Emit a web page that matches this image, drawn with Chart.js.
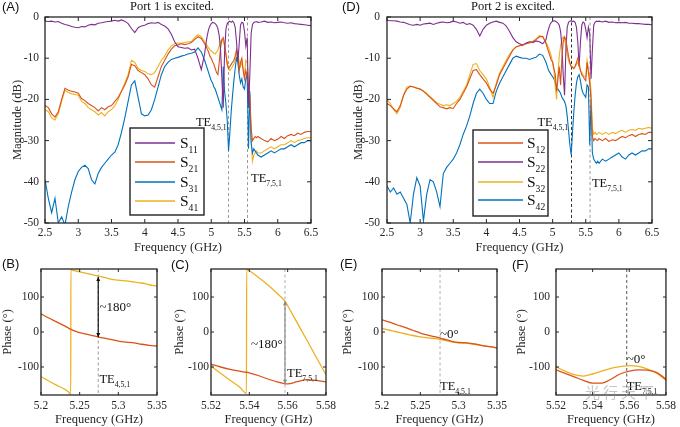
<!DOCTYPE html>
<html><head><meta charset="utf-8">
<script src="https://cdn.jsdelivr.net/npm/chart.js@4.4.1/dist/chart.umd.min.js"></script>
<style>
body{margin:0;background:#fff;width:680px;height:427px;overflow:hidden;position:relative}
canvas{position:absolute;left:0;top:0}
.pl{position:absolute;font-family:"Liberation Sans",Arial,sans-serif;font-size:13px;line-height:14px;color:#111}
.tt{position:absolute;font-family:"Liberation Serif","Times New Roman",serif;font-size:12.5px;line-height:14px;color:#111;text-align:center;width:200px}
.wm{position:absolute;font-family:"Noto Sans CJK SC",sans-serif;font-size:15px;color:rgba(150,150,150,0.55);letter-spacing:3px}
</style></head><body>
<canvas id="cA" width="680" height="427"></canvas>
<canvas id="cD" width="680" height="427"></canvas>
<canvas id="cB" width="680" height="427"></canvas>
<canvas id="cC" width="680" height="427"></canvas>
<canvas id="cE" width="680" height="427"></canvas>
<canvas id="cF" width="680" height="427"></canvas>
<div class="pl" style="left:2px;top:0px">(A)</div>
<div class="pl" style="left:342px;top:0px">(D)</div>
<div class="pl" style="left:2px;top:257px">(B)</div>
<div class="pl" style="left:171px;top:258px">(C)</div>
<div class="pl" style="left:340px;top:257px">(E)</div>
<div class="pl" style="left:512px;top:258px">(F)</div>
<div class="tt" style="left:72px;top:-1px">Port 1 is excited.</div>
<div class="tt" style="left:413px;top:-1px">Port 2 is excited.</div>
<div class="wm" style="left:585px;top:381px">光行天下</div>
<script>
// ---------- DATA ----------
const freqTop = [
 2.50,2.55,2.60,2.65,2.70,2.75,2.80,2.85,2.90,2.95,
 3.00,3.05,3.10,3.15,3.20,3.25,3.30,3.35,3.40,3.45,
 3.50,3.55,3.60,3.65,3.70,3.75,3.80,3.85,3.90,3.95,
 4.00,4.05,4.10,4.15,4.20,4.25,4.30,4.35,4.40,4.45,
 4.50,4.55,4.60,4.65,4.70,4.75,4.80,4.85,4.90,
 4.92,4.94,4.96,4.98,5.00,5.02,5.04,5.06,5.08,5.10,
 5.12,5.14,5.16,5.18,5.20,5.22,5.24,5.26,5.28,5.30,
 5.32,5.34,5.36,5.38,5.40,5.42,5.44,5.46,5.48,5.50,
 5.52,5.54,5.56,5.58,5.60,5.62,5.64,5.66,5.68,5.70,
 5.75,5.80,5.85,5.90,5.95,6.00,6.05,6.10,6.15,6.20,6.25,6.30,6.35,6.40,6.45,6.50];

// Panel A (port 1 excited), dB
const s11 = [
 -1.0,-1.1,-1.0,-1.2,-1.1,-1.5,-1.8,-2.0,-2.3,-2.5,
 -2.6,-2.3,-2.4,-2.0,-1.8,-1.9,-1.5,-1.4,-1.2,-1.1,
 -1.0,-0.8,-1.0,-0.7,-1.0,-1.6,-2.8,-3.8,-2.6,-2.2,
 -2.0,-1.6,-1.4,-1.5,-1.3,-1.8,-2.2,-2.9,-4.2,-6.0,
 -7.2,-7.4,-7.6,-7.5,-8.0,-7.8,-10.0,-12.8,-9.0,
 -6.5,-4.5,-3.0,-2.2,-1.6,-1.3,-1.4,-1.6,-2.0,-2.8,
 -4.5,-8.0,-15.0,-22.0,-9.0,-3.0,-1.6,-1.2,-1.0,-1.3,
 -1.0,-1.4,-2.5,-6.0,-11.0,-6.5,-2.0,-1.3,-1.5,-3.5,
 -7.0,-5.0,-22.0,-14.0,-4.0,-1.8,-1.3,-1.2,-1.1,-1.3,
 -1.2,-1.0,-1.3,-1.2,-1.4,-1.3,-1.2,-1.4,-1.5,-1.4,-1.6,-1.7,-1.8,-1.9,-2.0,-2.1];
const s21 = [
 -21.5,-22.0,-23.5,-24.3,-23.0,-20.0,-17.3,-17.8,-18.0,-18.2,
 -18.5,-19.8,-20.3,-21.0,-21.5,-22.0,-22.8,-22.0,-22.5,-21.8,
 -21.5,-20.5,-19.5,-18.0,-16.5,-14.5,-11.5,-11.8,-13.0,-13.5,
 -14.0,-15.0,-16.5,-17.0,-14.5,-12.0,-10.5,-9.0,-7.8,-7.0,
 -6.8,-6.5,-6.7,-6.5,-6.2,-5.5,-4.8,-5.2,-6.5,
 -7.0,-7.8,-8.5,-9.5,-10.0,-10.8,-11.5,-12.5,-13.5,-14.0,
 -11.0,-7.5,-5.5,-5.0,-6.5,-9.0,-11.5,-12.5,-12.0,-11.5,
 -11.0,-10.5,-9.5,-8.0,-9.5,-13.0,-11.0,-10.0,-13.0,-15.0,
 -13.0,-14.5,-17.0,-19.0,-27.0,-30.0,-29.5,-29.0,-29.3,-29.0,
 -29.5,-30.0,-30.3,-29.5,-30.0,-29.7,-29.0,-29.5,-28.8,-28.5,-28.8,-28.2,-28.5,-28.0,-27.8,-27.8];
const s31 = [
 -39.5,-44.0,-47.5,-44.0,-50.0,-48.5,-50.5,-46.0,-42.5,-39.5,
 -37.5,-36.5,-36.0,-36.8,-39.5,-40.5,-38.0,-36.5,-35.5,-34.5,
 -33.5,-32.8,-31.0,-28.0,-24.5,-20.5,-16.5,-15.5,-19.5,-23.5,
 -24.0,-23.8,-22.5,-20.0,-17.0,-14.0,-12.0,-11.0,-10.3,-10.0,
 -9.8,-9.5,-9.3,-9.0,-8.8,-8.5,-7.5,-8.5,-10.5,
 -11.5,-12.5,-13.5,-14.5,-15.5,-16.0,-17.0,-17.5,-18.5,-19.5,
 -20.5,-21.5,-22.5,-12.0,-18.0,-21.0,-25.0,-32.5,-28.0,-23.0,
 -19.0,-15.5,-12.5,-10.0,-11.0,-14.0,-16.0,-15.0,-17.0,-17.5,
 -15.0,-14.0,-32.0,-18.0,-30.5,-33.0,-32.0,-32.5,-33.0,-33.5,
 -34.0,-33.5,-33.0,-32.5,-33.0,-32.5,-32.0,-32.0,-31.5,-31.0,-31.5,-31.0,-30.5,-30.5,-30.0,-30.0];
const s41 = [
 -22.5,-23.0,-24.5,-25.0,-23.5,-20.5,-17.8,-18.3,-18.6,-18.8,
 -19.0,-20.5,-21.0,-22.0,-22.5,-23.0,-23.8,-23.2,-24.0,-23.0,
 -22.5,-21.5,-20.0,-18.0,-16.0,-14.0,-10.5,-11.0,-12.5,-13.0,
 -13.2,-13.8,-14.0,-13.5,-12.0,-10.5,-9.5,-8.0,-7.0,-6.5,
 -6.3,-6.4,-6.2,-6.0,-6.0,-5.0,-4.3,-4.8,-6.0,
 -6.5,-7.0,-7.5,-8.0,-8.2,-8.5,-8.8,-9.0,-8.5,-8.0,
 -7.0,-6.0,-5.5,-6.0,-7.0,-9.0,-11.0,-12.5,-13.0,-12.5,
 -12.0,-11.5,-10.5,-9.0,-8.5,-11.0,-12.0,-11.0,-12.5,-14.0,
 -10.5,-11.0,-15.0,-21.0,-30.0,-35.0,-33.5,-33.0,-32.5,-33.0,
 -33.0,-32.5,-32.0,-31.5,-32.0,-31.5,-31.0,-31.0,-30.5,-30.0,-30.5,-30.0,-29.8,-29.5,-29.3,-29.3];

// Panel D (port 2 excited), dB
const s12 = [
 -21.0,-21.5,-22.3,-23.0,-21.5,-19.0,-17.5,-16.8,-17.0,-17.3,
 -17.5,-18.0,-18.8,-19.5,-20.3,-21.0,-21.8,-22.0,-22.3,-22.0,
 -22.2,-21.0,-20.0,-18.5,-17.0,-15.0,-13.0,-12.8,-14.0,-15.0,
 -16.0,-17.5,-18.5,-16.5,-14.0,-12.5,-11.0,-9.5,-8.0,-7.2,
 -7.0,-6.8,-6.5,-6.3,-6.0,-5.5,-4.8,-4.7,-6.5,
 -7.5,-8.5,-9.5,-10.5,-11.0,-12.5,-14.0,-18.0,-15.0,-12.0,
 -16.5,-10.0,-6.0,-4.8,-5.5,-7.5,-9.5,-11.0,-12.0,-12.3,
 -12.5,-12.0,-11.0,-10.0,-11.0,-13.0,-14.0,-14.5,-15.0,-15.5,
 -11.0,-13.5,-16.0,-20.0,-29.0,-30.0,-29.5,-29.8,-30.0,-29.5,
 -30.0,-29.5,-30.2,-29.8,-30.0,-29.5,-29.0,-29.3,-28.8,-28.5,-29.0,-28.5,-28.3,-28.5,-28.0,-28.0];
const s22 = [
 -0.8,-0.9,-0.9,-1.0,-1.2,-1.3,-1.6,-1.9,-2.0,-1.8,
 -2.0,-1.7,-1.6,-1.5,-1.8,-1.5,-1.3,-1.2,-1.4,-1.3,
 -1.0,-1.2,-1.5,-1.3,-1.8,-1.6,-2.0,-3.0,-4.6,-3.0,
 -2.0,-1.5,-1.2,-1.0,-1.3,-1.5,-2.2,-3.5,-5.0,-6.0,
 -6.5,-6.8,-6.3,-6.0,-6.2,-5.8,-6.0,-6.5,-5.5,
 -4.0,-2.8,-1.8,-1.3,-1.0,-0.9,-1.0,-1.2,-1.5,-2.0,
 -3.5,-7.0,-14.0,-19.0,-8.0,-2.5,-1.3,-1.0,-0.9,-1.1,
 -1.0,-1.3,-2.5,-6.0,-12.0,-6.0,-2.0,-1.2,-1.5,-3.0,
 -5.0,-2.5,-4.0,-15.0,-8.0,-2.0,-1.3,-1.0,-1.1,-1.0,
 -1.2,-1.0,-1.3,-1.2,-1.4,-1.3,-1.4,-1.3,-1.5,-1.5,-1.6,-1.6,-1.7,-1.8,-1.8,-1.9];
const s32 = [
 -20.0,-21.0,-22.5,-23.5,-22.0,-19.0,-17.0,-16.8,-17.0,-17.2,
 -17.5,-18.0,-18.5,-19.3,-20.0,-20.8,-21.2,-21.5,-21.3,-21.5,
 -21.0,-20.5,-19.5,-18.0,-16.5,-14.0,-11.5,-11.3,-13.0,-14.0,
 -15.0,-17.0,-19.5,-16.0,-13.5,-12.0,-10.5,-9.0,-8.0,-7.3,
 -7.0,-6.8,-6.5,-6.0,-6.0,-5.3,-4.5,-4.8,-6.0,
 -6.8,-7.5,-8.5,-9.5,-11.0,-13.0,-17.0,-20.0,-14.0,-9.5,
 -7.0,-5.5,-4.8,-5.5,-7.0,-9.0,-10.5,-11.5,-12.0,-12.0,
 -12.5,-12.0,-11.5,-11.0,-12.0,-13.0,-13.5,-14.0,-14.5,-14.5,
 -10.5,-12.5,-14.5,-18.0,-27.0,-28.5,-28.0,-28.5,-28.3,-28.0,
 -28.5,-28.0,-28.5,-28.0,-28.3,-27.8,-27.5,-28.0,-27.5,-27.3,-27.5,-27.0,-27.2,-27.0,-26.8,-27.0];
const s42 = [
 -41.0,-42.5,-41.5,-43.0,-42.5,-44.0,-45.5,-50.0,-43.0,-39.0,
 -41.0,-49.5,-43.0,-39.5,-40.0,-42.5,-46.0,-38.0,-36.5,-35.5,
 -34.5,-33.0,-31.0,-28.5,-26.5,-24.0,-21.0,-18.5,-17.5,-18.5,
 -20.0,-21.0,-21.0,-18.0,-16.0,-14.5,-13.0,-11.5,-10.0,-9.5,
 -9.8,-10.0,-10.0,-10.3,-10.0,-9.8,-9.0,-9.3,-11.0,
 -12.0,-13.0,-13.5,-14.0,-14.5,-15.0,-16.0,-17.0,-17.5,-18.0,
 -18.5,-19.5,-20.0,-20.5,-21.5,-24.0,-27.5,-31.0,-33.5,-28.0,
 -23.0,-19.0,-16.0,-14.5,-14.0,-15.5,-17.5,-18.5,-19.0,-19.5,
 -16.5,-17.0,-31.0,-20.0,-33.0,-34.5,-35.0,-35.5,-35.0,-35.5,
 -34.5,-35.0,-34.5,-34.0,-33.5,-33.0,-34.0,-34.5,-33.5,-33.0,-33.5,-33.0,-32.5,-32.5,-32.0,-32.0];

// Phase panels (degrees)
const freqB = [5.200,5.210,5.220,5.230,5.235,5.2385,5.2386,5.240,5.250,5.260,5.270,5.280,5.290,5.300,5.310,5.320,5.330,5.340,5.350];
const phB21 = [52,40,29,18,12,8,8,6,-2,-7,-12,-17,-21,-26,-29,-31,-35,-38,-40];
const phB41 = [-127,-140,-152,-163,-170,-178,178,177,172,167,162,157,151,148,146,143,140,135,131];
const freqC = [5.5200,5.5250,5.5300,5.5350,5.5385,5.5386,5.5400,5.5450,5.5500,5.5550,5.5586,5.5600,5.5650,5.5700,5.5750,5.5800];
const phC21 = [-92,-100,-107,-112,-115,-115,-117,-125,-135,-143,-148,-148,-142,-136,-138,-143];
const phC41 = [-97,-118,-138,-158,-175,178,175,155,133,108,88,75,26,-23,-73,-122];
const freqE = [5.20,5.21,5.22,5.23,5.24,5.25,5.26,5.27,5.28,5.29,5.30,5.31,5.32,5.33,5.34,5.35];
const phE12 = [35,28,20,13,5,-3,-9,-14,-20,-26,-30,-31,-34,-38,-42,-45];
const phE32 = [10,5,0,-5,-10,-14,-17,-19,-23,-28,-31,-32,-35,-39,-42,-46];
const freqF = [5.520,5.525,5.530,5.535,5.540,5.545,5.550,5.555,5.560,5.565,5.570,5.575,5.580];
const phF12 = [-108,-118,-128,-138,-146,-146,-135,-120,-112,-108,-109,-116,-135];
const phF32 = [-99,-112,-122,-126,-120,-112,-104,-99,-96,-98,-106,-118,-138];

// Ticks
const topXTicks = [2.5,3,3.5,4,4.5,5,5.5,6,6.5];
const topYTicks = [-50,-40,-30,-20,-10,0];
const phaseYTicks = [-100,0,100];
const xTicksBE = [5.2,5.25,5.3,5.35];
const xTicksCF = [5.52,5.54,5.56,5.58];
const legendA = ['11','21','31','41'];
const legendD = ['12','22','32','42'];

// ---------- DRAWING ----------
const SERIF = '"Liberation Serif","Times New Roman",serif';
const AX = '#262626';
const PURPLE='#7E2F8E', ORANGE='#D95319', BLUE='#0072BD', YELLOW='#EDB120';

function pts(xs, ys){ return xs.map((x,i)=>({x:x, y:ys[i]})); }

function subText(ctx, x, y, main, sub, size, align, color){
  ctx.save(); ctx.fillStyle = color || '#111'; ctx.textBaseline='alphabetic'; ctx.textAlign='left';
  ctx.font = size+'px '+SERIF; const w1 = ctx.measureText(main).width;
  const ss = size*0.62;
  ctx.font = ss+'px '+SERIF; const w2 = ctx.measureText(sub).width;
  const x0 = align==='right' ? x-w1-w2 : x;
  ctx.font = size+'px '+SERIF; ctx.fillText(main, x0, y);
  ctx.font = ss+'px '+SERIF; ctx.fillText(sub, x0+w1, y+size*0.3);
  ctx.restore();
}
function plainText(ctx, x, y, t, size, align){
  ctx.save(); ctx.fillStyle='#111'; ctx.font=size+'px '+SERIF; ctx.textAlign=align||'left'; ctx.textBaseline='alphabetic';
  ctx.fillText(t, x, y); ctx.restore();
}
function vdash(c, xv, color){
  const ctx=c.ctx, a=c.chartArea, px=c.scales.x.getPixelForValue(xv);
  ctx.save(); ctx.strokeStyle=color; ctx.lineWidth=1; ctx.setLineDash([3,2.5]);
  ctx.beginPath(); ctx.moveTo(px,a.top); ctx.lineTo(px,a.bottom); ctx.stroke(); ctx.restore();
}
function arrow(c, xv, y1, y2, color){
  const ctx=c.ctx, px=c.scales.x.getPixelForValue(xv), p1=c.scales.y.getPixelForValue(y1), p2=c.scales.y.getPixelForValue(y2);
  ctx.save(); ctx.strokeStyle=color; ctx.fillStyle=color; ctx.lineWidth=1.2;
  ctx.beginPath(); ctx.moveTo(px,p1); ctx.lineTo(px,p2); ctx.stroke();
  const top=Math.min(p1,p2), bot=Math.max(p1,p2);
  ctx.beginPath(); ctx.moveTo(px,top); ctx.lineTo(px-2,top+4); ctx.lineTo(px+2,top+4); ctx.closePath(); ctx.fill();
  ctx.beginPath(); ctx.moveTo(px,bot); ctx.lineTo(px-2,bot-4); ctx.lineTo(px+2,bot-4); ctx.closePath(); ctx.fill();
  ctx.restore();
}
function dx(c,v){return c.scales.x.getPixelForValue(v);}
function dy(c,v){return c.scales.y.getPixelForValue(v);}

function legendBox(ctx, box, items){
  ctx.save();
  ctx.fillStyle='#fff'; ctx.fillRect(box.l, box.t, box.r-box.l, box.b-box.t);
  ctx.strokeStyle='#222'; ctx.lineWidth=1.4; ctx.strokeRect(box.l, box.t, box.r-box.l, box.b-box.t);
  items.forEach(it=>{
    ctx.strokeStyle=it.c; ctx.lineWidth=1.6;
    ctx.beginPath(); ctx.moveTo(box.x1, it.y); ctx.lineTo(box.x2, it.y); ctx.stroke();
    subText(ctx, box.tx, it.y+5, 'S', it.sub, 15.5, 'left', '#111');
  });
  ctx.restore();
}

function frame(c, o){
  const ctx=c.ctx, a=c.chartArea, xs=c.scales.x, ys=c.scales.y, L=o.tick;
  ctx.save(); ctx.strokeStyle=AX; ctx.lineWidth=1.3;
  ctx.strokeRect(a.left, a.top, a.right-a.left, a.bottom-a.top);
  ctx.lineWidth=1; ctx.beginPath();
  o.xt.forEach(v=>{const p=xs.getPixelForValue(v); ctx.moveTo(p,a.bottom); ctx.lineTo(p,a.bottom-L); ctx.moveTo(p,a.top); ctx.lineTo(p,a.top+L);});
  o.yt.forEach(v=>{const p=ys.getPixelForValue(v); ctx.moveTo(a.left,p); ctx.lineTo(a.left+L,p); ctx.moveTo(a.right,p); ctx.lineTo(a.right-L,p);});
  ctx.stroke(); ctx.restore();
}

function makePanel(id, o){
  const W=o.yW, H=o.xH;
  return new Chart(document.getElementById(id), {
    type:'line',
    data:{datasets:o.series.map(s=>({data:pts(o.x, s.y), borderColor:s.c, backgroundColor:s.c, borderWidth:o.lw, pointRadius:0, fill:false,
      tension:0, cubicInterpolationMode:o.smooth?'monotone':'default'}))},
    options:{
      responsive:false, animation:false, events:[],
      layout:{padding:{left:o.l-W, top:o.t, right:680-o.r, bottom:427-o.b-H}},
      plugins:{legend:{display:false}, tooltip:{enabled:false}, title:{display:false}},
      scales:{
        x:{type:'linear', min:o.xmin, max:o.xmax,
          afterBuildTicks:s=>{s.ticks=o.xt.map(v=>({value:v}));},
          afterFit:s=>{s.height=H;},
          ticks:{font:{family:SERIF,size:11.5}, color:AX, padding:o.xtp, maxRotation:0, minRotation:0, autoSkip:false, callback:v=>String(v)},
          grid:{display:false, drawTicks:false}, border:{display:false},
          title:{display:true, text:'Frequency (GHz)', font:{family:SERIF,size:12.5}, color:AX, padding:{top:0,bottom:0}}},
        y:{type:'linear', min:o.ymin, max:o.ymax,
          afterBuildTicks:s=>{s.ticks=o.yt.map(v=>({value:v}));},
          afterFit:s=>{s.width=W;},
          ticks:{font:{family:SERIF,size:11.5}, color:AX, padding:o.ytp, autoSkip:false, callback:v=>String(v)},
          grid:{display:false, drawTicks:false}, border:{display:false},
          title:{display:true, text:o.ytitle, font:{family:SERIF,size:12.5}, color:AX, padding:{top:o.ytitlePad,bottom:0}}}
      }
    },
    plugins:[{id:'deco'+id,
      beforeDatasetsDraw(c){ if(o.under) o.under(c); },
      afterDraw(c){ frame(c,o); if(o.over) o.over(c); }}]
  });
}

// Panel A
makePanel('cA', {l:45, t:17, r:311, b:223, yW:45, xH:32, xtp:3, ytp:6, ytitlePad:10.5, tick:4, lw:1.1,
  xmin:2.5, xmax:6.5, ymin:-50, ymax:0, xt:topXTicks, yt:topYTicks, x:freqTop, ytitle:'Magnitude (dB)',
  series:[{y:s11,c:PURPLE},{y:s21,c:ORANGE},{y:s31,c:BLUE},{y:s41,c:YELLOW}],
  under:c=>{ vdash(c,5.26,'#9a9a9a'); vdash(c,5.545,'#9a9a9a'); },
  over:c=>{
    subText(c.ctx, dx(c,4.77), dy(c,-26.5), 'TE', '4,5,1', 12.5);
    subText(c.ctx, dx(c,5.598), dy(c,-40), 'TE', '7,5,1', 12.5);
    legendBox(c.ctx, {l:130,t:128,r:204,b:215,x1:135,x2:175,tx:180},
      [{c:PURPLE,sub:legendA[0],y:143},{c:ORANGE,sub:legendA[1],y:162},{c:BLUE,sub:legendA[2],y:182},{c:YELLOW,sub:legendA[3],y:201}]);
  }});

// Panel D
makePanel('cD', {l:387, t:17, r:652, b:223, yW:45, xH:32, xtp:3, ytp:7, ytitlePad:9, tick:4, lw:1.1,
  xmin:2.5, xmax:6.5, ymin:-50, ymax:0, xt:topXTicks, yt:topYTicks, x:freqTop, ytitle:'Magnitude (dB)',
  series:[{y:s12,c:ORANGE},{y:s22,c:PURPLE},{y:s32,c:YELLOW},{y:s42,c:BLUE}],
  under:c=>{ vdash(c,5.285,'#333'); vdash(c,5.565,'#9a9a9a'); },
  over:c=>{
    subText(c.ctx, dx(c,4.77), dy(c,-26.5), 'TE', '4,5,1', 12.5);
    subText(c.ctx, dx(c,5.594), dy(c,-41.3), 'TE', '7,5,1', 12.5);
    legendBox(c.ctx, {l:473,t:130,r:548,b:216,x1:478,x2:523,tx:527},
      [{c:ORANGE,sub:legendD[0],y:143},{c:PURPLE,sub:legendD[1],y:162},{c:YELLOW,sub:legendD[2],y:182},{c:BLUE,sub:legendD[3],y:200}]);
  }});

// Panel B
makePanel('cB', {l:41, t:269, r:157, b:395, yW:41, xH:32, xtp:4, ytp:2, ytitlePad:0, tick:3, lw:1.3, smooth:true,
  xmin:5.2, xmax:5.35, ymin:-180, ymax:180, xt:xTicksBE, yt:phaseYTicks, x:freqB, ytitle:'Phase (°)',
  series:[{y:phB21,c:ORANGE},{y:phB41,c:YELLOW}],
  under:c=>{ vdash(c,5.274,'#9a9a9a'); },
  over:c=>{
    arrow(c,5.274,-14,157,'#111');
    plainText(c.ctx, dx(c,5.2755), dy(c,60), '~180°', 13, 'left');
    subText(c.ctx, dx(c,5.2755), dy(c,-146), 'TE', '4,5,1', 12.5);
  }});

// Panel C
makePanel('cC', {l:211, t:269, r:326, b:395, yW:41, xH:32, xtp:4, ytp:2, ytitlePad:2.5, tick:3, lw:1.3, smooth:true,
  xmin:5.52, xmax:5.58, ymin:-180, ymax:180, xt:xTicksCF, yt:phaseYTicks, x:freqC, ytitle:'Phase (°)',
  series:[{y:phC21,c:ORANGE},{y:phC41,c:YELLOW}],
  under:c=>{ vdash(c,5.5586,'#b0b0b0'); },
  over:c=>{
    arrow(c,5.5586,-148,88,'#8a8a8a');
    plainText(c.ctx, dx(c,5.5574), dy(c,-46), '~180°', 13, 'right');
    subText(c.ctx, dx(c,5.5597), dy(c,-129), 'TE', '7,5,1', 12.5);
  }});

// Panel E
makePanel('cE', {l:382, t:269, r:497, b:395, yW:42, xH:32, xtp:4, ytp:3, ytitlePad:0, tick:3, lw:1.3, smooth:true,
  xmin:5.2, xmax:5.35, ymin:-180, ymax:180, xt:xTicksBE, yt:phaseYTicks, x:freqE, ytitle:'Phase (°)',
  series:[{y:phE12,c:ORANGE},{y:phE32,c:YELLOW}],
  under:c=>{ vdash(c,5.2757,'#b0b0b0'); },
  over:c=>{
    plainText(c.ctx, dx(c,5.2757), dy(c,-17), '~0°', 13, 'left');
    subText(c.ctx, dx(c,5.2757), dy(c,-166), 'TE', '4,5,1', 12.5);
  }});

// Panel F
makePanel('cF', {l:556, t:269, r:668, b:395, yW:46, xH:32, xtp:4, ytp:6, ytitlePad:4.5, tick:3, lw:1.3, smooth:true,
  xmin:5.52, xmax:5.58, ymin:-180, ymax:180, xt:xTicksCF, yt:phaseYTicks, x:freqF, ytitle:'Phase (°)',
  series:[{y:phF12,c:ORANGE},{y:phF32,c:YELLOW}],
  under:c=>{ vdash(c,5.5586,'#555'); },
  over:c=>{
    plainText(c.ctx, dx(c,5.5586), dy(c,-89), '~0°', 13, 'left');
    subText(c.ctx, dx(c,5.5586), dy(c,-166), 'TE', '7,5,1', 12.5);
  }});
</script>
</body></html>
